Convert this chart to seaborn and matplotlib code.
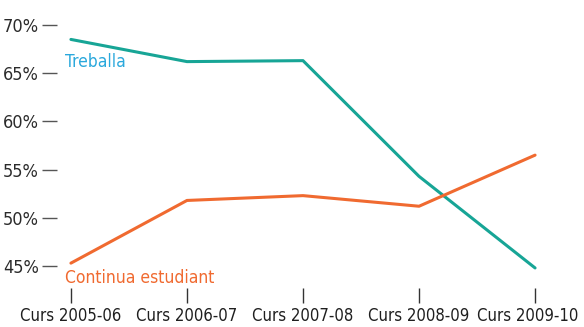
import matplotlib
matplotlib.use("Agg")
import matplotlib.pyplot as plt
import matplotlib.transforms as mtransforms
import seaborn as sns
import pandas as pd

# School years and share of graduates in each situation (%)
courses = ["Curs 2005-06", "Curs 2006-07", "Curs 2007-08", "Curs 2008-09", "Curs 2009-10"]
treballa = [68.5, 66.2, 66.3, 54.3, 44.8]
continua = [45.3, 51.8, 52.3, 51.2, 56.5]
y_ticks = [45, 50, 55, 60, 65, 70]

sns.set_theme(style="white")
plt.rcParams["font.family"] = ["DejaVu Sans"]
plt.rcParams["font.stretch"] = "condensed"

df = pd.DataFrame({
    "pos": list(range(len(courses))) * 2,
    "value": treballa + continua,
    "serie": ["Treballa"] * len(courses) + ["Continua estudiant"] * len(courses),
})

teal = "#17a596"
orange = "#f06a30"

fig = plt.figure(figsize=(5.84, 3.27), dpi=100)
ax = fig.add_axes([57 / 584, 1 - 288 / 327, (578 - 57) / 584, (288 - 8) / 327])

sns.lineplot(data=df, x="pos", y="value", hue="serie",
             palette={"Treballa": teal, "Continua estudiant": orange},
             linewidth=2.2, legend=False, ax=ax)

ax.set_xlim(-0.12, 4.37)
ax.set_ylim(42.72, 71.76)
ax.set_xticks(range(len(courses)))
ax.set_xticklabels(courses)
ax.set_yticks(y_ticks)
ax.set_yticklabels([f"{v}%" for v in y_ticks])
ax.set_xlabel("")
ax.set_ylabel("")
for s in ax.spines.values():
    s.set_visible(False)

ax.tick_params(axis="y", direction="out", length=11, width=1.0, color="#555555",
               pad=2, labelsize=13, labelcolor="#2b2b2b", left=True)
ax.tick_params(axis="x", direction="out", length=11, width=1.0, color="#333333",
               pad=2.5, labelsize=12, labelcolor="#1f1f1f", bottom=True)

# keep the last course label inside the canvas
last = ax.get_xticklabels()[-1]
last.set_transform(last.get_transform() +
                   mtransforms.ScaledTranslation(-7 / 100, 0, fig.dpi_scale_trans))

ax.text(-0.052, 65.64, "Treballa", color="#2aa8dc", fontsize=12.5,
        ha="left", va="baseline")
ax.text(-0.052, 43.24, "Continua estudiant", color=orange, fontsize=12.5,
        ha="left", va="baseline")

fig.savefig("out.png", dpi=100)
